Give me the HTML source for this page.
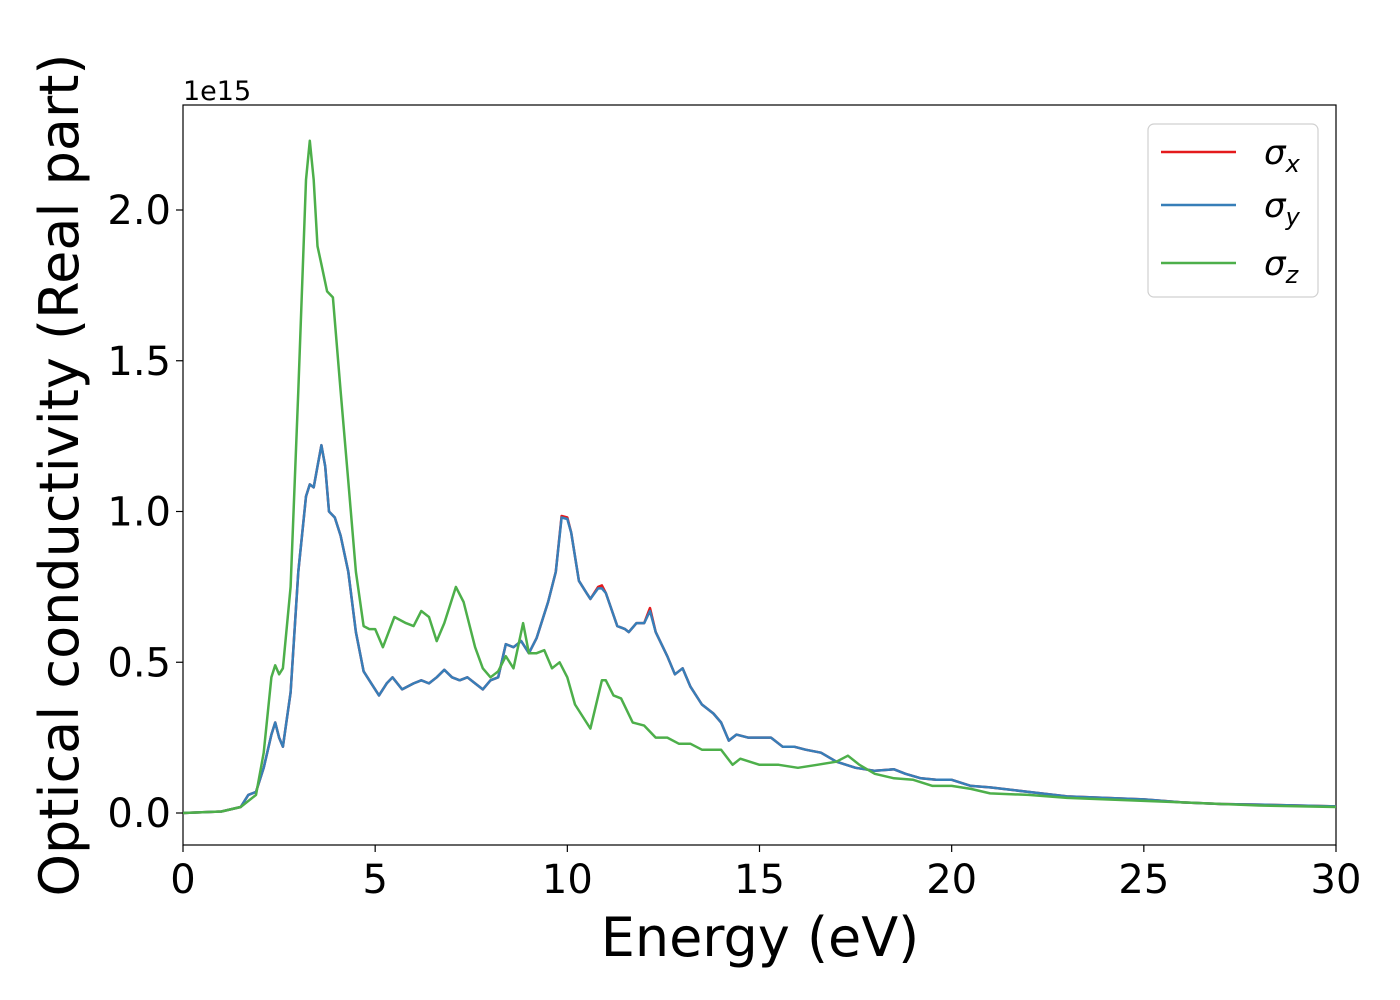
<!DOCTYPE html>
<html><head><meta charset="utf-8"><style>body{margin:0;background:#fff}svg{display:block}text{font-family:"DejaVu Sans","Liberation Sans",sans-serif}</style></head>
<body>
<svg id="chart" width="1400" height="1000"></svg>
<script>
const xTicks=[0,5,10,15,20,25,30];
const yTicks=[0.0,0.5,1.0,1.5,2.0];
const eXY=[0,1,1.5,1.7,1.9,2.1,2.3,2.4,2.5,2.6,2.8,3.0,3.2,3.3,3.4,3.5,3.6,3.7,3.8,3.95,4.1,4.3,4.5,4.7,4.9,5.1,5.3,5.45,5.7,6.0,6.2,6.4,6.6,6.8,7.0,7.2,7.4,7.6,7.8,8.0,8.2,8.4,8.6,8.8,9.0,9.2,9.5,9.7,9.85,10.0,10.1,10.3,10.5,10.6,10.8,10.9,11.0,11.3,11.5,11.6,11.8,12.0,12.15,12.3,12.6,12.8,13.0,13.2,13.5,13.8,14.0,14.2,14.4,14.7,15.0,15.3,15.6,15.9,16.2,16.6,17.0,17.5,18.0,18.5,18.8,19.2,19.6,20.0,20.5,21,22,23,24,25,26,27,28,30];
const sigX=[0,0.005,0.02,0.06,0.07,0.15,0.26,0.30,0.25,0.22,0.40,0.80,1.05,1.09,1.08,1.15,1.22,1.15,1.0,0.98,0.92,0.80,0.60,0.47,0.43,0.39,0.43,0.45,0.41,0.43,0.44,0.43,0.45,0.475,0.45,0.44,0.45,0.43,0.41,0.44,0.45,0.56,0.55,0.57,0.53,0.58,0.70,0.80,0.985,0.98,0.93,0.77,0.73,0.71,0.75,0.755,0.73,0.62,0.61,0.60,0.63,0.63,0.68,0.60,0.52,0.46,0.48,0.42,0.36,0.33,0.30,0.24,0.26,0.25,0.25,0.25,0.22,0.22,0.21,0.20,0.17,0.15,0.14,0.145,0.13,0.115,0.11,0.11,0.09,0.085,0.07,0.055,0.05,0.045,0.035,0.03,0.028,0.022];
const sigY=[0,0.005,0.02,0.06,0.07,0.15,0.26,0.30,0.25,0.22,0.40,0.80,1.05,1.09,1.08,1.15,1.22,1.15,1.0,0.98,0.92,0.80,0.60,0.47,0.43,0.39,0.43,0.45,0.41,0.43,0.44,0.43,0.45,0.475,0.45,0.44,0.45,0.43,0.41,0.44,0.45,0.56,0.55,0.57,0.53,0.58,0.70,0.80,0.98,0.975,0.93,0.77,0.73,0.71,0.745,0.745,0.73,0.62,0.61,0.60,0.63,0.63,0.67,0.60,0.52,0.46,0.48,0.42,0.36,0.33,0.30,0.24,0.26,0.25,0.25,0.25,0.22,0.22,0.21,0.20,0.17,0.15,0.14,0.145,0.13,0.115,0.11,0.11,0.09,0.085,0.07,0.055,0.05,0.045,0.035,0.03,0.028,0.022];
const eZ=[0,1,1.5,1.9,2.1,2.3,2.4,2.5,2.6,2.8,3.0,3.2,3.3,3.4,3.5,3.6,3.75,3.9,4.1,4.3,4.5,4.7,4.85,5.0,5.2,5.5,5.8,6.0,6.2,6.4,6.6,6.8,7.1,7.3,7.6,7.8,8.0,8.2,8.4,8.6,8.85,9.0,9.2,9.4,9.6,9.8,10.0,10.2,10.5,10.6,10.9,11.0,11.2,11.4,11.7,12.0,12.3,12.6,12.9,13.2,13.5,14.0,14.3,14.5,15.0,15.5,16.0,16.5,17.0,17.3,17.6,18,18.5,19,19.5,20,20.5,21,22,23,24,25,26,28,30];
const sigZ=[0,0.005,0.02,0.06,0.2,0.45,0.49,0.46,0.48,0.75,1.40,2.10,2.23,2.10,1.88,1.82,1.73,1.71,1.40,1.10,0.80,0.62,0.61,0.61,0.55,0.65,0.63,0.62,0.67,0.65,0.57,0.63,0.75,0.70,0.55,0.48,0.45,0.47,0.52,0.48,0.63,0.53,0.53,0.54,0.48,0.50,0.45,0.36,0.30,0.28,0.44,0.44,0.39,0.38,0.30,0.29,0.25,0.25,0.23,0.23,0.21,0.21,0.16,0.18,0.16,0.16,0.15,0.16,0.17,0.19,0.16,0.13,0.115,0.11,0.09,0.09,0.08,0.065,0.06,0.05,0.045,0.04,0.035,0.025,0.02];

const NS='http://www.w3.org/2000/svg';
const svg=document.getElementById('chart');
const L=183,R=1336,T=105,B=845;
const xs=v=>L+(v-0)/(30-0)*(R-L);
const ys=v=>813-v*301.5;
function mk(tag,attrs,parent){const e=document.createElementNS(NS,tag);for(const k in attrs)e.setAttribute(k,attrs[k]);(parent||svg).appendChild(e);return e;}

const frame=mk('rect',{x:L,y:T,width:R-L,height:B-T,fill:'none',stroke:'#000','stroke-width':1.2});



xTicks.forEach(t=>{
  const l=mk('line',{x1:xs(t),x2:xs(t),y1:B,y2:B+7,stroke:'#000','stroke-width':1.2});
  
  
  const tx=mk('text',{x:xs(t),y:B+48,'font-size':40,'text-anchor':'middle'});
  tx.textContent=String(t);
  
  
});
yTicks.forEach(t=>{
  const l=mk('line',{x1:L-7,x2:L,y1:ys(t),y2:ys(t),stroke:'#000','stroke-width':1.2});
  
  
  const tx=mk('text',{x:L-12,y:ys(t)+14,'font-size':40,'text-anchor':'end'});
  tx.textContent=t.toFixed(1);
  
  
});
const off=mk('text',{x:183,y:100,'font-size':27});
off.textContent='1e15';


const xl=mk('text',{x:760,y:956,'font-size':54,'text-anchor':'middle'});
xl.textContent='Energy (eV)';


const yl=mk('text',{x:0,y:0,'font-size':54,'text-anchor':'middle',transform:'translate(78,475) rotate(-90)'});
yl.textContent='Optical conductivity (Real part)';



function series(E,V,color,name){
  const d=E.map((e,i)=>(i?'L':'M')+xs(e).toFixed(1)+','+ys(V[i]).toFixed(1)).join(' ');
  const p=mk('path',{d:d,fill:'none',stroke:color,'stroke-width':2.5,'stroke-linejoin':'round'});
  
  
}
series(eXY,sigX,'#e41a1c','series-sigma-x');
series(eXY,sigY,'#377eb8','series-sigma-y');
series(eZ,sigZ,'#4daf4a','series-sigma-z');

const lg=mk('g',{});


mk('rect',{x:1148,y:124,width:170,height:173,rx:6,fill:'#fff','fill-opacity':0.8,stroke:'#d0d0d0','stroke-width':1.2},lg);
[['x','#e41a1c',152],['y','#377eb8',205],['z','#4daf4a',263]].forEach(([s,c,y])=>{
  const g=mk('g',{},lg);
  
  
  mk('line',{x1:1161,x2:1236,y1:y,y2:y,stroke:c,'stroke-width':2.5},g);
  const t=mk('text',{x:1264,y:y+12,'font-size':34,'font-style':'italic'},g);
  t.textContent='σ';
  const sub=mk('tspan',{'font-size':24,dy:8},t);
  sub.textContent=s;
});
</script>
</body></html>
